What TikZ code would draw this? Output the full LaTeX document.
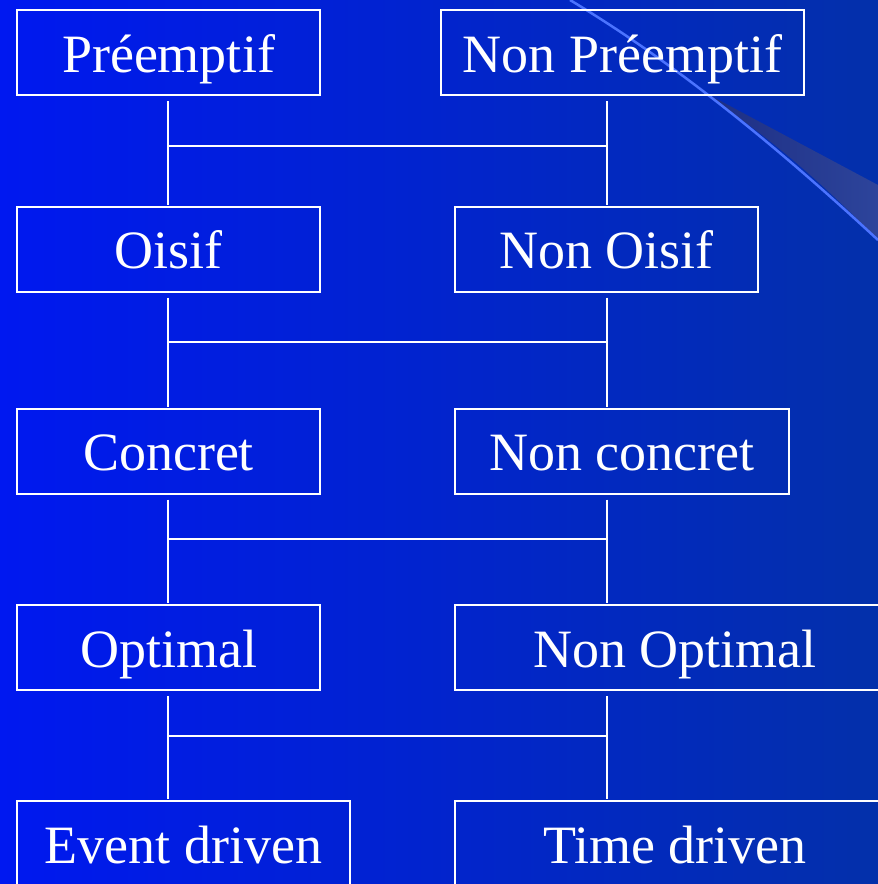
\documentclass[tikz,border=0pt]{standalone}
\usepackage{fontspec}
\setmainfont{Liberation Serif}
\definecolor{bgleft}{RGB}{0,24,240}
\definecolor{bgright}{RGB}{3,48,170}
\definecolor{swoosh}{RGB}{75,115,255}
\definecolor{wedgeA}{RGB}{28,45,130}
\definecolor{wedgeB}{RGB}{45,68,155}
\begin{document}
\begin{tikzpicture}[x=1pt,y=-1pt,
  box/.style={draw=white,line width=2pt,rectangle,inner sep=0pt,
    minimum height=85pt,text=white,font=\fontsize{54}{60}\selectfont,
    text height=51pt,text depth=12pt},
  link/.style={draw=white,line width=2pt}]
\useasboundingbox (0,0) rectangle (878,884);
\clip (0,0) rectangle (878,884);
\shade[left color=bgleft,right color=bgright] (0,0) rectangle (878,884);
% decorative swoosh
\shade[left color=wedgeA,right color=wedgeB] (700,90) -- (878,185) -- (878,240)
  .. controls (800,160) and (750,125) .. (700,90) -- cycle;
\draw[swoosh,line width=2.5pt] (570,0) .. controls (670,60) and (770,140) .. (878,240);
% column coordinates
\coordinate (lc) at (168,0);
\coordinate (rc) at (607,0);
% boxes
\node[box,minimum width=303pt] (pre)  at (168.5,52.5) {Préemptif};
\node[box,minimum width=363pt] (npre) at (622.5,52.5) {Non Préemptif};
\node[box,minimum width=303pt] (ois)  at (168.5,249) {Oisif};
\node[box,minimum width=303pt] (nois) at (606.5,249) {Non Oisif};
\node[box,minimum width=303pt] (con)  at (168.5,451) {Concret};
\node[box,minimum width=334pt] (ncon) at (622,451) {Non concret};
\node[box,minimum width=303pt] (opt)  at (168.5,647.5) {Optimal};
\node[box,minimum width=440pt] (nopt) at (675,647.5) {Non Optimal};
\node[box,minimum width=333pt] (evt)  at (183.5,843.5) {Event driven};
\node[box,minimum width=440pt] (tim)  at (675,843.5) {Time driven};
% connectors
\foreach \a/\b/\c/\d/\h in {pre/npre/ois/nois/146, ois/nois/con/ncon/342, con/ncon/opt/nopt/539, opt/nopt/evt/tim/736}{
  \draw[link] ([yshift=-5pt]\a.south -| lc) -- ([yshift=1pt]\c.north -| lc);
  \draw[link] ([yshift=-5pt]\b.south -| rc) -- ([yshift=1pt]\d.north -| rc);
  \draw[link] (lc |- 0,\h) -- (rc |- 0,\h);
}
\end{tikzpicture}
\end{document}
